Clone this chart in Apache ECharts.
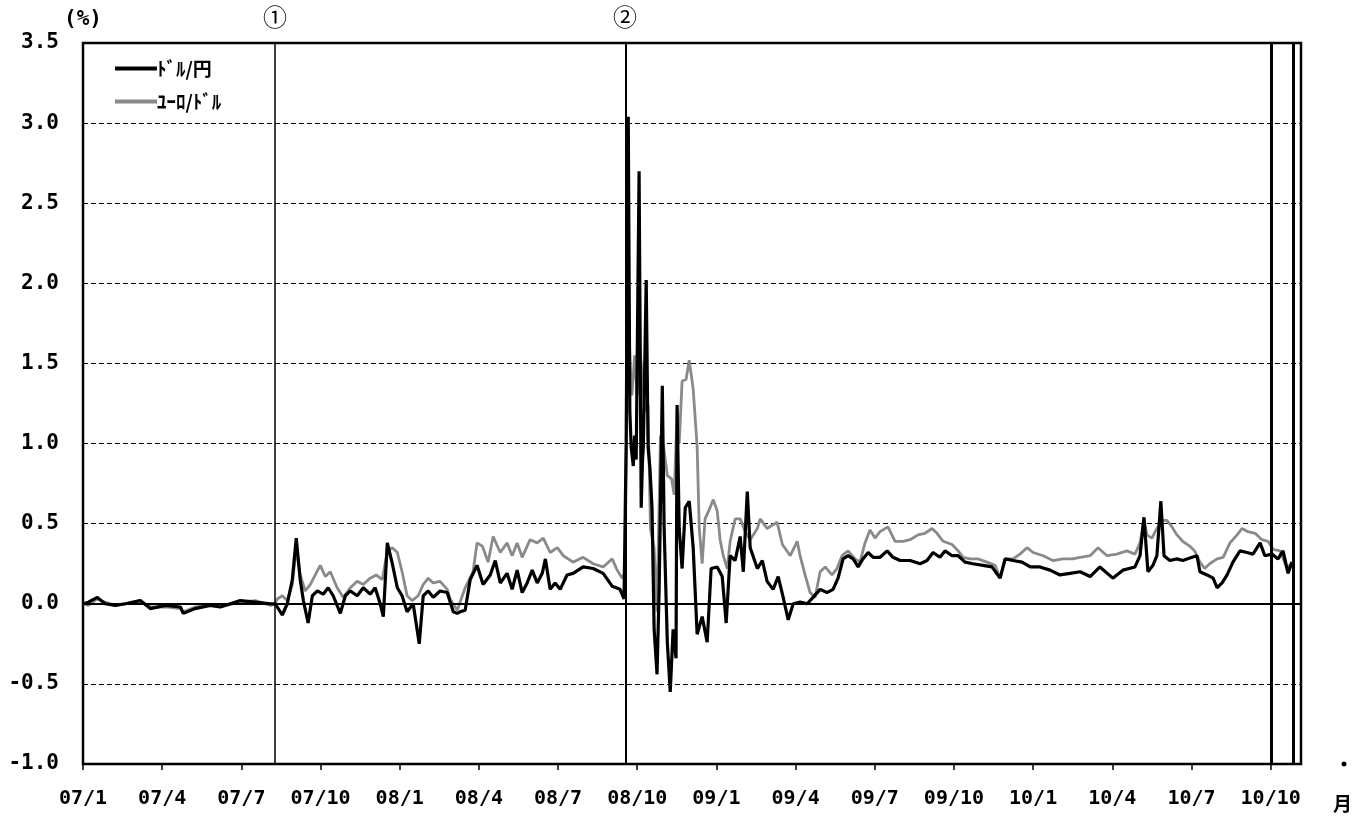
<!DOCTYPE html>
<html>
<head>
<meta charset="utf-8">
<script src="https://cdn.jsdelivr.net/npm/echarts@6/dist/echarts.min.js"></script>
<style>
html,body{margin:0;padding:0;background:#fff;}
#chart{width:1353px;height:816px;}
</style>
</head>
<body>
<div id="chart"></div>
<script>
// x = months since 2007/01 (07/1 = 0)
const tickLabels = ['07/1','07/4','07/7','07/10','08/1','08/4','08/7','08/10','09/1','09/4','09/7','09/10','10/1','10/4','10/7','10/10'];
const tickMonths = [0,3,6,9,12,15,18,21,24,27,30,33,36,39,42,45];
const seriesNames = ['ﾄﾞﾙ/円','ﾕｰﾛ/ﾄﾞﾙ'];
const eventLines = [7.26, 20.56, 45.04, 45.86];

const usdJpy = [
[0,0.0],[0.2,0.01],[0.54,0.04],[0.84,0.0],[1.22,-0.01],[1.6,0.0],[2.17,0.02],[2.55,-0.03],[3.12,-0.01],[3.69,-0.02],[3.8,-0.06],[4.25,-0.03],[4.82,-0.01],[5.2,-0.02],[5.96,0.02],[6.53,0.01],[7.1,0.0],[7.28,0.0],
[7.36,-0.02],[7.55,-0.07],[7.74,0.0],[7.93,0.15],[8.08,0.41],[8.23,0.15],[8.35,0.02],[8.53,-0.12],[8.69,0.05],[8.88,0.08],[9.1,0.06],[9.29,0.1],[9.48,0.05],[9.75,-0.06],[9.94,0.05],[10.13,0.08],[10.39,0.05],[10.62,0.1],[10.88,0.06],[11.07,0.1],[11.26,0.0],[11.38,-0.08],[11.53,0.38],[11.72,0.25],[11.91,0.1],[12.09,0.05],[12.28,-0.05],[12.51,0.0],[12.74,-0.25],[12.89,0.05],[13.08,0.08],[13.27,0.04],[13.53,0.08],[13.8,0.07],[14.03,-0.05],[14.18,-0.06],[14.29,-0.05],[14.48,-0.04],[14.67,0.15],[14.93,0.24],[15.16,0.12],[15.43,0.18],[15.62,0.27],[15.81,0.13],[16.07,0.19],[16.26,0.09],[16.45,0.21],[16.64,0.07],[16.83,0.13],[17.02,0.21],[17.21,0.13],[17.4,0.19],[17.52,0.28],[17.7,0.09],[17.89,0.13],[18.08,0.09],[18.34,0.18],[18.57,0.19],[18.95,0.23],[19.33,0.22],[19.71,0.19],[20.05,0.11],[20.35,0.09],[20.5,0.03],
[20.58,1.0],[20.66,3.04],[20.72,1.2],[20.77,0.98],[20.85,0.86],[20.9,1.05],[20.96,0.9],[21.07,2.7],[21.15,0.6],[21.2,0.9],[21.23,0.98],[21.34,2.02],[21.41,0.98],[21.48,0.85],[21.56,0.6],[21.64,-0.16],[21.75,-0.44],[21.83,0.09],[21.95,1.36],[22.02,0.47],[22.14,-0.24],[22.25,-0.55],[22.36,-0.16],[22.47,-0.34],[22.51,1.24],[22.59,0.47],[22.7,0.22],[22.82,0.6],[22.97,0.64],[23.12,0.35],[23.27,-0.19],[23.46,-0.08],[23.65,-0.24],[23.8,0.22],[24.03,0.23],[24.22,0.17],[24.37,-0.12],[24.52,0.3],[24.71,0.27],[24.9,0.42],[25.02,0.2],[25.17,0.7],[25.28,0.35],[25.55,0.22],[25.74,0.27],[25.92,0.14],[26.15,0.09],[26.34,0.17],[26.53,0.04],[26.72,-0.1],[26.91,0.0],[27.17,0.01],[27.44,0.0],[27.66,0.04],[27.93,0.09],[28.19,0.07],[28.42,0.09],[28.61,0.16],[28.8,0.28],[28.99,0.3],[29.18,0.28],[29.37,0.23],[29.55,0.28],[29.75,0.32],[29.94,0.29],[30.2,0.29],[30.47,0.33],[30.69,0.29],[30.96,0.27],[31.34,0.27],[31.72,0.25],[31.98,0.27],[32.21,0.32],[32.47,0.29],[32.66,0.33],[32.93,0.3],[33.16,0.3],[33.42,0.26],[33.72,0.25],[34.1,0.24],[34.44,0.23],[34.75,0.16],[34.94,0.28],[35.24,0.27],[35.58,0.26],[35.89,0.23],[36.26,0.23],[36.64,0.21],[37.02,0.18],[37.4,0.19],[37.78,0.2],[38.16,0.17],[38.53,0.23],[39.02,0.16],[39.4,0.21],[39.86,0.23],[40.05,0.3],[40.2,0.54],[40.35,0.2],[40.54,0.24],[40.69,0.3],[40.84,0.64],[40.96,0.3],[41.18,0.27],[41.45,0.28],[41.67,0.27],[42.02,0.29],[42.21,0.3],[42.32,0.2],[42.59,0.18],[42.82,0.16],[42.97,0.1],[43.16,0.13],[43.35,0.18],[43.57,0.26],[43.84,0.33],[44.1,0.32],[44.33,0.31],[44.6,0.38],[44.78,0.3],[45.05,0.31],[45.28,0.28],[45.47,0.33],[45.66,0.19],[45.81,0.26]
];

const eurUsd = [
[0,0.0],[0.2,-0.01],[0.54,0.03],[0.84,0.01],[1.22,-0.01],[1.6,0.0],[2.17,0.02],[2.55,-0.02],[3.12,-0.02],[3.69,-0.03],[3.8,-0.05],[4.25,-0.02],[4.82,-0.01],[5.2,-0.02],[5.96,0.01],[6.53,0.02],[7.1,-0.01],[7.28,0.0],
[7.36,0.03],[7.55,0.05],[7.74,0.02],[7.93,0.12],[8.08,0.35],[8.23,0.18],[8.42,0.08],[8.61,0.12],[8.8,0.18],[8.99,0.24],[9.18,0.17],[9.37,0.2],[9.63,0.1],[9.86,0.04],[10.13,0.1],[10.39,0.14],[10.62,0.12],[10.88,0.16],[11.11,0.18],[11.34,0.15],[11.53,0.33],[11.72,0.35],[11.91,0.32],[12.09,0.2],[12.28,0.05],[12.47,0.02],[12.7,0.05],[12.89,0.12],[13.08,0.16],[13.27,0.13],[13.53,0.14],[13.8,0.09],[13.91,0.03],[14.18,-0.04],[14.48,0.1],[14.78,0.2],[14.93,0.38],[15.13,0.36],[15.35,0.26],[15.54,0.42],[15.81,0.32],[16.07,0.38],[16.26,0.3],[16.45,0.38],[16.64,0.29],[16.94,0.4],[17.21,0.38],[17.44,0.41],[17.7,0.32],[17.97,0.35],[18.2,0.3],[18.57,0.26],[18.95,0.29],[19.33,0.25],[19.71,0.23],[20.05,0.28],[20.24,0.21],[20.43,0.16],[20.54,0.2],
[20.62,1.5],[20.66,1.9],[20.73,1.5],[20.8,1.3],[20.9,1.55],[21.0,1.3],[21.1,1.6],[21.2,1.4],[21.3,1.2],[21.41,1.24],[21.5,0.47],[21.64,0.35],[21.75,-0.05],[21.88,1.05],[22.0,0.98],[22.14,0.8],[22.3,0.78],[22.4,0.68],[22.51,1.2],[22.59,1.0],[22.7,1.39],[22.85,1.4],[22.97,1.52],[23.12,1.34],[23.27,0.98],[23.35,0.47],[23.46,0.25],[23.57,0.53],[23.76,0.6],[23.88,0.65],[24.03,0.58],[24.14,0.4],[24.26,0.3],[24.41,0.22],[24.52,0.39],[24.71,0.53],[24.9,0.53],[25.09,0.45],[25.28,0.4],[25.55,0.47],[25.66,0.53],[25.92,0.47],[26.3,0.51],[26.5,0.37],[26.8,0.3],[27.06,0.39],[27.17,0.3],[27.36,0.18],[27.55,0.07],[27.74,0.04],[27.93,0.2],[28.12,0.23],[28.38,0.18],[28.57,0.22],[28.76,0.3],[28.99,0.33],[29.25,0.28],[29.44,0.26],[29.63,0.38],[29.82,0.46],[30.01,0.41],[30.2,0.45],[30.5,0.48],[30.77,0.39],[31.07,0.39],[31.34,0.4],[31.64,0.43],[31.9,0.44],[32.17,0.47],[32.36,0.44],[32.59,0.39],[32.93,0.37],[33.16,0.33],[33.35,0.29],[33.61,0.28],[33.91,0.28],[34.25,0.26],[34.56,0.24],[34.75,0.16],[34.94,0.28],[35.24,0.28],[35.5,0.31],[35.77,0.35],[36.0,0.32],[36.38,0.3],[36.75,0.27],[37.13,0.28],[37.5,0.28],[37.78,0.29],[38.16,0.3],[38.46,0.35],[38.8,0.3],[39.17,0.31],[39.55,0.33],[39.86,0.31],[40.05,0.38],[40.2,0.53],[40.31,0.43],[40.5,0.41],[40.69,0.47],[40.88,0.52],[41.07,0.52],[41.26,0.48],[41.45,0.43],[41.67,0.39],[41.93,0.36],[42.12,0.33],[42.32,0.26],[42.5,0.22],[42.69,0.25],[42.97,0.28],[43.2,0.29],[43.46,0.38],[43.73,0.43],[43.92,0.47],[44.14,0.45],[44.41,0.44],[44.67,0.4],[44.9,0.39],[45.09,0.34],[45.36,0.33],[45.62,0.22],[45.81,0.26]
];

const numFont = '"DejaVu Sans Mono", "Liberation Mono", monospace';
const jpFont = '"Noto Sans CJK JP", sans-serif';

const chart = echarts.init(document.getElementById('chart'), null, {renderer: 'canvas'});
chart.setOption({
  animation: false,
  backgroundColor: '#fff',
  grid: {left: 83, right: 52, top: 43, bottom: 52, show: true, borderColor: '#000', borderWidth: 2.5, containLabel: false},
  legend: {
    left: 110, top: 54, orient: 'vertical', itemWidth: 42, itemHeight: 14, itemGap: 14,
    data: seriesNames,
    textStyle: {fontFamily: jpFont, fontSize: 19, fontWeight: 'bold', color: '#000', padding: [0,0,0,-5]},
    icon: 'path://M0,4.5 L42,4.5 L42,8.5 L0,8.5 Z'
  },
  xAxis: {
    type: 'value', min: 0, max: 46.15, interval: 3,
    splitLine: {show: false},
    axisLine: {show: true, onZero: false, lineStyle: {color: '#000', width: 2}},
    axisTick: {show: true, customValues: tickMonths, length: 6, lineStyle: {color: '#000', width: 1.5}},
    axisLabel: {
      customValues: tickMonths, margin: 25,
      fontFamily: numFont, fontSize: 20, fontWeight: 'bold', color: '#000',
      formatter: v => { const i = tickMonths.indexOf(Math.round(v)); return i >= 0 ? tickLabels[i] : ''; }
    }
  },
  yAxis: {
    type: 'value', min: -1, max: 3.5, interval: 0.5,
    axisLine: {show: true, lineStyle: {color: '#000', width: 2}},
    axisTick: {show: false},
    splitLine: {show: true, lineStyle: {color: '#000', width: 1.2, type: [5, 3]}},
    axisLabel: {fontFamily: numFont, fontSize: 21, fontWeight: 'bold', color: '#000', margin: 24, formatter: v => v.toFixed(1)}
  },
  series: [
    {
      name: seriesNames[1], type: 'line', data: eurUsd, showSymbol: false, symbol: 'none',
      lineStyle: {color: '#8a8a8a', width: 2.8}, itemStyle: {color: '#8a8a8a'}, z: 3
    },
    {
      name: seriesNames[0], type: 'line', data: usdJpy, showSymbol: false, symbol: 'none',
      lineStyle: {color: '#000', width: 3.2}, itemStyle: {color: '#000'}, z: 4,
      markLine: {
        silent: true, symbol: 'none', label: {show: false}, animation: false,
        data: [
          {yAxis: 0, lineStyle: {color: '#000', width: 2, type: 'solid'}},
          {xAxis: eventLines[0], lineStyle: {color: '#000', width: 1.5, type: 'solid'}},
          {xAxis: eventLines[1], lineStyle: {color: '#000', width: 2, type: 'solid'}},
          {xAxis: eventLines[2], lineStyle: {color: '#000', width: 3, type: 'solid'}},
          {xAxis: eventLines[3], lineStyle: {color: '#000', width: 3, type: 'solid'}}
        ]
      }
    }
  ],
  graphic: [
    {type: 'text', left: 64, top: 9, style: {text: '(%)', fontFamily: numFont, fontSize: 21, fontWeight: 'bold', fill: '#000'}},
    {type: 'text', left: 263, top: 5, style: {text: '①', fontFamily: jpFont, fontSize: 24, fill: '#000'}},
    {type: 'text', left: 613, top: 5, style: {text: '②', fontFamily: jpFont, fontSize: 24, fill: '#000'}},
    {type: 'text', left: 1333, top: 794, style: {text: '月', fontFamily: jpFont, fontSize: 19, fontWeight: 'bold', fill: '#000'}},
    {type: 'circle', shape: {cx: 1344, cy: 764, r: 2.5}, style: {fill: '#000'}}
  ]
});
</script>
</body>
</html>
